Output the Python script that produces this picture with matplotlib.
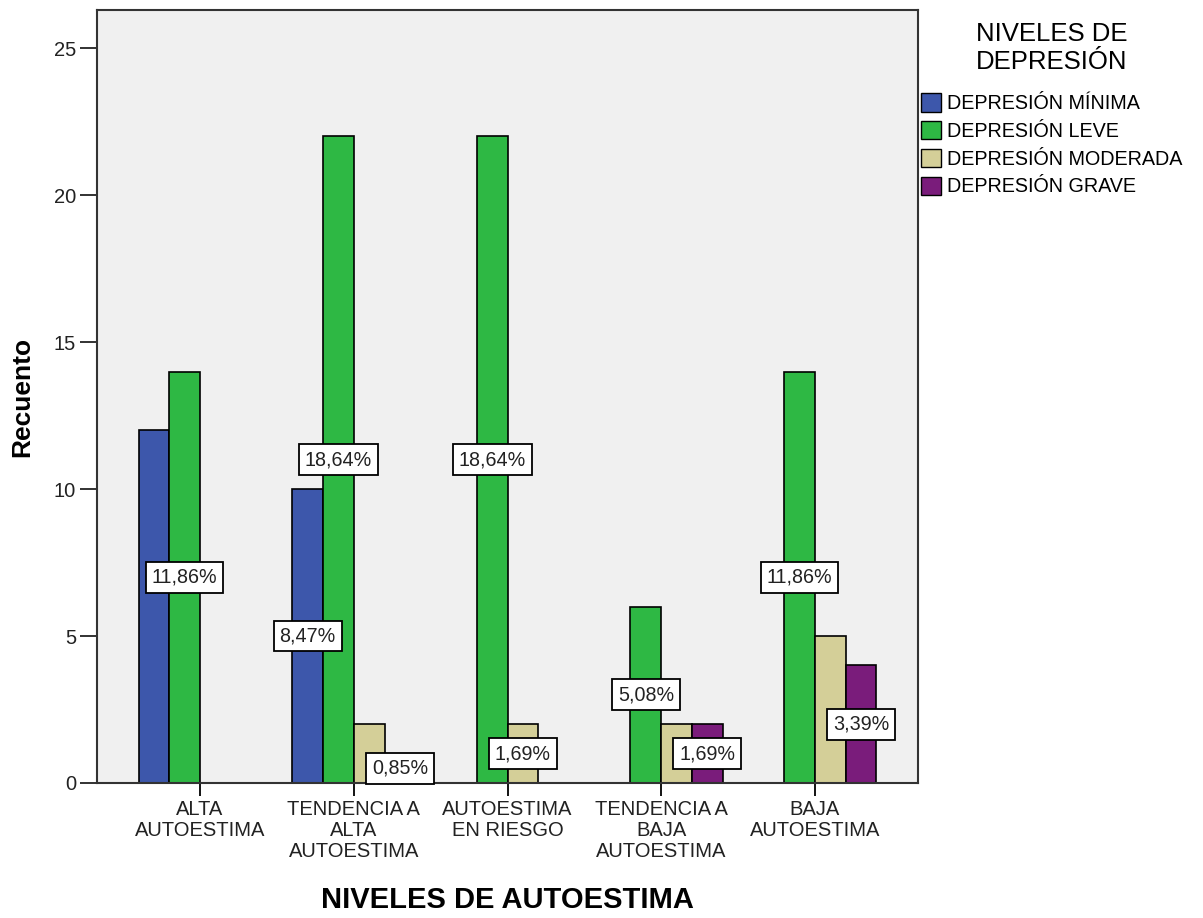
import matplotlib.pyplot as plt
import numpy as np
from matplotlib.patches import Patch

plt.rcParams['font.family'] = ['Liberation Sans', 'DejaVu Sans']

# categories on the x axis
grupos = ['ALTA\nAUTOESTIMA', 'TENDENCIA A\nALTA\nAUTOESTIMA', 'AUTOESTIMA\nEN RIESGO',
          'TENDENCIA A\nBAJA\nAUTOESTIMA', 'BAJA\nAUTOESTIMA']
series = ['DEPRESIÓN MÍNIMA', 'DEPRESIÓN LEVE', 'DEPRESIÓN MODERADA', 'DEPRESIÓN GRAVE']
colores = ['#3D57AB', '#2EB844', '#D4CF98', '#7A1C7B']

# counts per series (one value per group)
minima = [12, 10, 0, 0, 0]
leve = [14, 22, 22, 6, 14]
moderada = [0, 2, 2, 2, 5]
grave = [0, 1, 0, 2, 4]
conteos = [minima, leve, moderada, grave]
total = 118

# which bars carry a percentage label: (group index, series index)
etiquetas = [(0, 1), (1, 0), (1, 1), (1, 3), (2, 1), (2, 2), (3, 1), (3, 3), (4, 1), (4, 3)]

fig = plt.figure(figsize=(12.03, 9.18), dpi=100)
ax = fig.add_axes([97/1203, 1-783/918, (918-97)/1203, (783-10)/918])
ax.set_facecolor('#F0F0F0')

x = np.arange(len(grupos))
ancho = 0.2
for i, vals in enumerate(conteos):
    pos = x + (i - 1.5) * ancho
    ax.bar(pos, vals, width=ancho, color=colores[i], edgecolor='black', linewidth=1.2, zorder=2)

# JAB percentage boxes at mid height of the bar
for g, s in etiquetas:
    v = conteos[s][g]
    pct = ('%.2f%%' % (100.0 * v / total)).replace('.', ',')
    ax.text(x[g] + (s - 1.5) * ancho, v / 2.0, pct, ha='center', va='center', fontsize=14.2,
            color='#222222', zorder=5,
            bbox=dict(boxstyle='square,pad=0.3', facecolor='white', edgecolor='black', linewidth=1.3))

ax.set_xlim(-0.67, 4.67)
ax.set_ylim(0, 26.3)
ax.set_yticks([0, 5, 10, 15, 20, 25])
ax.set_xticks(x)
ax.set_xticklabels(grupos, fontsize=14.5, linespacing=1.15, color='#222222')
ax.tick_params(axis='y', labelsize=14.5, length=12, width=1.3, colors='#222222', pad=3)
ax.tick_params(axis='x', length=9, width=1.3, pad=3)
for sp in ax.spines.values():
    sp.set_linewidth(1.5)
    sp.set_color('#333333')

ax.set_ylabel('Recuento', fontsize=19, fontweight='bold', labelpad=14)
ax.set_xlabel('NIVELES DE AUTOESTIMA', fontsize=21, fontweight='bold', labelpad=18)

handles = [Patch(facecolor=colores[i], edgecolor='black', linewidth=1.0, label=series[i]) for i in range(4)]
leg = fig.legend(handles=handles, title='NIVELES DE\nDEPRESIÓN', loc='upper left',
                 bbox_to_anchor=(921/1203, 1-22/918), frameon=False, fontsize=14.2,
                 title_fontsize=18.5, handlelength=1.0, handleheight=1.05, handletextpad=0.3,
                 labelspacing=0.4, borderaxespad=0, borderpad=0)
leg.get_title().set_multialignment('center')
leg.get_title().set_linespacing(1.2)
leg._legend_box.sep = 14

fig.savefig('out.png', dpi=100)
